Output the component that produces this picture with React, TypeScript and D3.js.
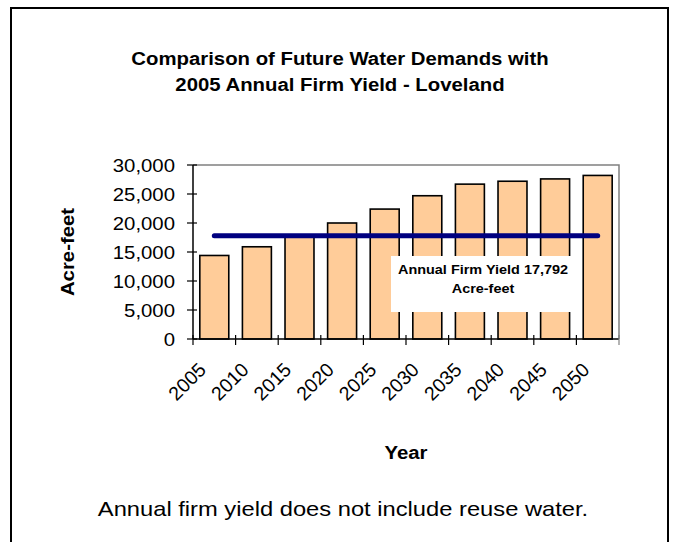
import React, { useEffect, useRef } from "react";
import * as d3 from "d3";

const years = ["2005", "2010", "2015", "2020", "2025", "2030", "2035", "2040", "2045", "2050"];
const demands = [14400, 15900, 17800, 20000, 22400, 24700, 26700, 27200, 27600, 28200];
const firmYield = 17792;
const yTicks = [0, 5000, 10000, 15000, 20000, 25000, 30000];
const titleLines = ["Comparison of Future Water Demands with", "2005 Annual Firm Yield - Loveland"];
const noteLines = ["Annual Firm Yield 17,792", "Acre-feet"];
const footnote = "Annual firm yield does not include reuse water.";

function App() {
  const ref = useRef<SVGSVGElement | null>(null);
  const width = 678;
  const height = 542;
  const marginLeft = 193;
  const marginRight = 59;
  const marginTop = 165;
  const marginBottom = 203;
  const sx = 1.1; // the source text runs a bit wider than Arial

  useEffect(() => {
    const svg = d3.select(ref.current);
    svg.selectAll("*").remove();
    svg
      .attr("width", width)
      .attr("height", height)
      .attr("viewBox", [0, 0, width, height])
      .attr("style", "position:absolute; left:0; top:0; background:#fff; font-family:'Liberation Sans', Arial, sans-serif;");

    const x = d3
      .scaleBand()
      .domain(years)
      .range([marginLeft, width - marginRight])
      .paddingInner(0.32)
      .paddingOuter(0.16);

    const y = d3
      .scaleLinear()
      .domain([0, 30000])
      .range([height - marginBottom, marginTop]);

    const step = x.step();
    const x0 = marginLeft;
    const x1 = width - marginRight;
    const y0 = y(0);

    // stretched text helper
    const label = (
      g: d3.Selection<any, unknown, null, undefined>,
      tx: number,
      ty: number,
      text: string,
      size: number,
      opts: { bold?: boolean; anchor?: string; rotate?: number; dy?: string; scale?: number } = {}
    ) =>
      g
        .append("text")
        .attr(
          "transform",
          `translate(${tx},${ty}) rotate(${opts.rotate ?? 0}) scale(${opts.scale ?? sx},1)`
        )
        .attr("text-anchor", opts.anchor ?? "middle")
        .attr("dy", opts.dy ?? null)
        .attr("font-size", size)
        .attr("font-weight", opts.bold ? "bold" : "normal")
        .attr("fill", "#000")
        .text(text);

    // outer frame
    svg
      .append("rect")
      .attr("x", 11)
      .attr("y", 8)
      .attr("width", 657)
      .attr("height", 560)
      .attr("fill", "none")
      .attr("stroke", "#000")
      .attr("stroke-width", 2);

    // title
    titleLines.forEach((t, i) => label(svg, 340, 65 + i * 26, t, 18.5, { bold: true }));

    // plot area border (top/right gray)
    svg
      .append("path")
      .attr("d", `M${x0},${y(30000)}H${x1}V${y0}`)
      .attr("fill", "none")
      .attr("stroke", "#808080")
      .attr("stroke-width", 1.5);

    // bars
    svg
      .append("g")
      .selectAll("rect")
      .data(demands)
      .join("rect")
      .attr("x", (_, i) => x(years[i]) as number)
      .attr("y", (d) => y(d))
      .attr("width", x.bandwidth())
      .attr("height", (d) => y0 - y(d))
      .attr("fill", "#FFCC99")
      .attr("stroke", "#000")
      .attr("stroke-width", 1.6);

    // y axis
    const yAxis = svg.append("g");
    yAxis
      .append("line")
      .attr("x1", x0)
      .attr("x2", x0)
      .attr("y1", y(30000))
      .attr("y2", y0)
      .attr("stroke", "#000")
      .attr("stroke-width", 1.5);
    yTicks.forEach((v) => {
      yAxis
        .append("line")
        .attr("x1", x0 - 6)
        .attr("x2", x0 + 4)
        .attr("y1", y(v))
        .attr("y2", y(v))
        .attr("stroke", "#000")
        .attr("stroke-width", 1.2);
      label(yAxis, x0 - 18, y(v), d3.format(",")(v), 18.5, { anchor: "end", dy: "0.36em" });
    });

    // x axis
    const xAxis = svg.append("g");
    xAxis
      .append("line")
      .attr("x1", x0)
      .attr("x2", x1)
      .attr("y1", y0)
      .attr("y2", y0)
      .attr("stroke", "#000")
      .attr("stroke-width", 1.5);
    d3.range(years.length + 1).forEach((i) => {
      const tx = x0 + i * step;
      xAxis
        .append("line")
        .attr("x1", tx)
        .attr("x2", tx)
        .attr("y1", y0 - 4)
        .attr("y2", y0 + 6)
        .attr("stroke", i === years.length ? "#808080" : "#000")
        .attr("stroke-width", 1.2);
    });
    years.forEach((yr) => {
      const cx = (x(yr) as number) + x.bandwidth() / 2;
      label(xAxis, cx - 7, y0 + 32, yr, 19.5, { anchor: "end", rotate: -45, scale: 1.0 });
    });

    // firm yield line
    svg
      .append("line")
      .attr("x1", (x(years[0]) as number) + x.bandwidth() / 2)
      .attr("x2", (x(years[years.length - 1]) as number) + x.bandwidth() / 2)
      .attr("y1", y(firmYield))
      .attr("y2", y(firmYield))
      .attr("stroke", "#000080")
      .attr("stroke-width", 5)
      .attr("stroke-linecap", "round");

    // annotation box
    svg
      .append("rect")
      .attr("x", 391)
      .attr("y", 256)
      .attr("width", 190)
      .attr("height", 56)
      .attr("fill", "#fff");
    noteLines.forEach((t, i) => label(svg, 483, 274 + i * 19, t, 13.5, { bold: true, scale: 1.07 }));

    // axis titles
    label(svg, 74, (y0 + y(30000)) / 2, "Acre-feet", 18.5, { bold: true, rotate: -90 });
    label(svg, (x0 + x1) / 2, 459, "Year", 18.5, { bold: true });

    // footnote
    label(svg, 343, 516, footnote, 21, { scale: 1.13 });
  }, []);

  return <svg ref={ref}></svg>;
}

export default App;
